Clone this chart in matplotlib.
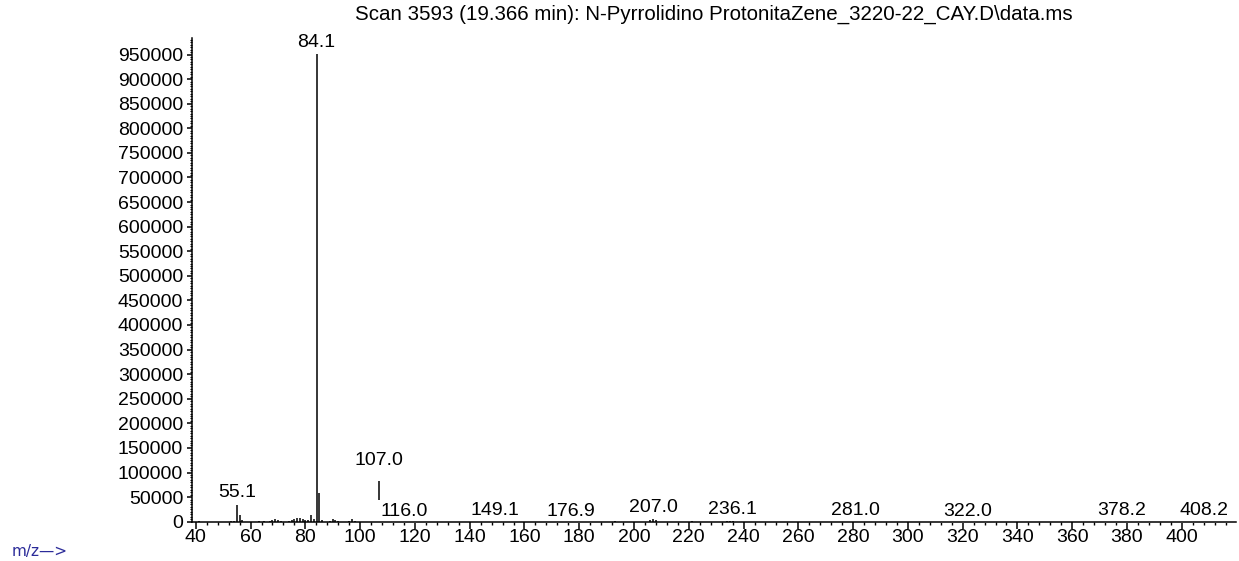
#!/usr/bin/env python3
"""
Mass spectrum, scan 3593 (19.366 min) - N-Pyrrolidino Protonitazene
"""

import matplotlib
matplotlib.use('Agg')

import matplotlib.pyplot as plt
from matplotlib.ticker import MultipleLocator, FuncFormatter

plt.rcParams['font.family'] = ['Liberation Sans', 'DejaVu Sans']
plt.rcParams['font.size'] = 14

TITLE = 'Scan 3593 (19.366 min): N-Pyrrolidino ProtonitaZene_3220-22_CAY.D\\data.ms'

# m/z and abundance of the peaks
mz = [41, 53, 54, 55.1, 56, 57, 63, 65, 67, 68, 69, 70, 71, 74, 75, 76, 77, 78,
      79, 80, 81, 82, 83, 84.1, 85, 86, 89, 90, 91, 92, 96, 97, 98, 107.0,
      116.0, 149.1, 176.9, 193, 206, 207.0, 208, 221, 234, 235, 236.1,
      281.0, 282, 283, 322.0, 378.2, 408.2]
abundance = [1000, 2000, 2000, 38000, 13500, 3000, 2000, 1500, 2000, 3000, 6000,
             4000, 2000, 2000, 3000, 6000, 8000, 7000, 5000, 3000, 3000, 13000,
             5000, 955000, 58000, 3000, 2000, 5000, 4000, 2000, 2000, 5000, 2000,
             82000, 1000, 2500, 1000, 1000, 3000, 9000, 3000, 1500, 2000, 3000,
             4000, 3000, 1500, 1000, 1000, 1500, 1500]

# peaks that carry a label
labelled = [55.1, 84.1, 107.0, 116.0, 149.1, 176.9, 207.0, 236.1,
            281.0, 322.0, 378.2, 408.2]

fig = plt.figure(figsize=(12.39, 5.61), dpi=100)
ax = fig.add_axes([191.7 / 1239, 1 - 521.7 / 561,
                   (1236 - 191.7) / 1239, (521.7 - 38.3) / 561])

ax.vlines(mz, 0, abundance, color='black', linewidth=1.1, zorder=2)

# peak labels (white box hides what is under them, like the original)
for m, a in zip(mz, abundance):
    if m not in labelled:
        continue
    lift = 12 if m == 107.0 else 4
    ax.annotate(f'{m:.1f}', xy=(m, a), xytext=(0, lift),
                textcoords='offset points', ha='center', va='baseline',
                fontsize=14,
                bbox=dict(facecolor='white', edgecolor='none', pad=2.2),
                zorder=3)

ax.set_xlim(38.5, 419.8)
ax.set_ylim(0, 983000)

ax.xaxis.set_major_locator(MultipleLocator(20))
ax.xaxis.set_minor_locator(MultipleLocator(4))
ax.yaxis.set_major_locator(MultipleLocator(50000))
ax.yaxis.set_minor_locator(MultipleLocator(5000))
ax.yaxis.set_major_formatter(FuncFormatter(lambda v, p: f'{int(round(v))}'))

for side in ['top', 'right']:
    ax.spines[side].set_visible(False)
for side in ['left', 'bottom']:
    ax.spines[side].set_linewidth(1.1)
    ax.spines[side].set_zorder(5)

ax.tick_params(axis='x', which='major', length=5, width=1.1, pad=0.5)
ax.tick_params(axis='x', which='minor', length=2.2, width=1.0)
ax.tick_params(axis='y', which='major', length=3.6, width=1.1, pad=2.5)
ax.tick_params(axis='y', which='minor', length=1.8, width=0.8)

fig.text(714 / 1239, 1 - 20 / 561, TITLE, ha='center', va='baseline', fontsize=14.8)
fig.text(12 / 1239, 1 - 556 / 561, 'm/z\u2014>', ha='left', va='baseline',
         fontsize=11, color='#2b2b99', family=['DejaVu Sans'])

plt.savefig('out.png', dpi=100)
plt.close()
